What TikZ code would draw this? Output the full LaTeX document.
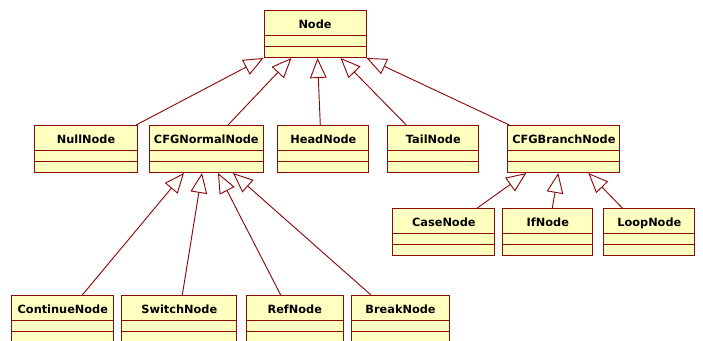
\documentclass[tikz,border=0pt]{standalone}
\usepackage{fontspec}
\setmainfont{DejaVu Sans}
\usepackage{tikz}
\usetikzlibrary{shapes.multipart,arrows.meta,calc}
\definecolor{umlline}{RGB}{140,10,10}
\definecolor{umlfill}{RGB}{255,255,192}
\newcommand{\clsname}[1]{\rule[-5.5pt]{0pt}{18.2pt}\textbf{#1}}
\tikzset{
	cls/.style={rectangle split, rectangle split parts=3, draw=umlline, fill=umlfill,
		line width=0.8pt, inner ysep=0pt, anchor=north west, minimum width=#1,
		rectangle split empty part height=7.3pt, rectangle split empty part depth=0pt,
		font=\fontsize{8.5}{10}\selectfont},
	gen/.style={draw=umlline, line width=0.7pt, -{Triangle[fill=white, length=15pt, width=12.5pt]}}
}
\begin{document}
\begin{tikzpicture}[x=0.75pt, y=-0.75pt]
					\useasboundingbox (0,0) rectangle (703,340);
					\clip (0,0) rectangle (703,340);
					% top
					\node[cls=76.5pt] (Node) at (263.5,10) {\clsname{Node} \nodepart{second} \nodepart{third}};
					% second row
					\node[cls=77.25pt] (NullNode) at (34,125) {\clsname{NullNode} \nodepart{second} \nodepart{third}};
					\node[cls=84pt] (CFGNormalNode) at (149,125) {\clsname{CFGNormalNode} \nodepart{second} \nodepart{third}};
					\node[cls=68.25pt] (HeadNode) at (277.3,125) {\clsname{HeadNode} \nodepart{second} \nodepart{third}};
					\node[cls=68.25pt] (TailNode) at (387.3,125) {\clsname{TailNode} \nodepart{second} \nodepart{third}};
					\node[cls=83.25pt] (CFGBranchNode) at (507.3,125) {\clsname{CFGBranchNode} \nodepart{second} \nodepart{third}};
					% branch children
					\node[cls=76.5pt] (CaseNode) at (392.3,208) {\clsname{CaseNode} \nodepart{second} \nodepart{third}};
					\node[cls=67.5pt] (IfNode) at (502.3,208) {\clsname{IfNode} \nodepart{second} \nodepart{third}};
					\node[cls=68.25pt] (LoopNode) at (603.3,208) {\clsname{LoopNode} \nodepart{second} \nodepart{third}};
					% normal children
					\node[cls=76.5pt] (ContinueNode) at (11.3,295) {\clsname{ContinueNode} \nodepart{second} \nodepart{third}};
					\node[cls=86.25pt] (SwitchNode) at (121.3,295) {\clsname{SwitchNode} \nodepart{second} \nodepart{third}};
					\node[cls=72.75pt] (RefNode) at (245.7,295) {\clsname{RefNode} \nodepart{second} \nodepart{third}};
					\node[cls=73.5pt] (BreakNode) at (351,295) {\clsname{BreakNode} \nodepart{second} \nodepart{third}};
					% generalizations
					\draw[gen] ($(NullNode.north east)+(-2,0)$) -- (Node.south west);
					\draw[gen] ($(CFGNormalNode.north west)+(79,0)$) -- ($(Node.south west)+(28,0)$);
					\draw[gen] ($(HeadNode.north west)+(43,0)$) -- ($(Node.south west)+(54,0)$);
					\draw[gen] ($(TailNode.north west)+(19,0)$) -- ($(Node.south west)+(77,0)$);
					\draw[gen] ($(CFGBranchNode.north west)+(2,0)$) -- (Node.south east);
					\draw[gen] ($(CaseNode.north west)+(85,0)$) -- ($(CFGBranchNode.south west)+(19,0)$);
					\draw[gen] ($(IfNode.north west)+(50,0)$) -- ($(CFGBranchNode.south west)+(51,0)$);
					\draw[gen] ($(LoopNode.north west)+(19,0)$) -- ($(CFGBranchNode.south west)+(81,0)$);
					\draw[gen] ($(ContinueNode.north west)+(71,0)$) -- ($(CFGNormalNode.south west)+(35,0)$);
					\draw[gen] ($(SwitchNode.north west)+(61,0)$) -- ($(CFGNormalNode.south west)+(53,0)$);
					\draw[gen] ($(RefNode.north west)+(35,0)$) -- ($(CFGNormalNode.south west)+(69,0)$);
					\draw[gen] ($(BreakNode.north west)+(20,0)$) -- ($(CFGNormalNode.south west)+(84,0)$);
				\end{tikzpicture}
\end{document}
